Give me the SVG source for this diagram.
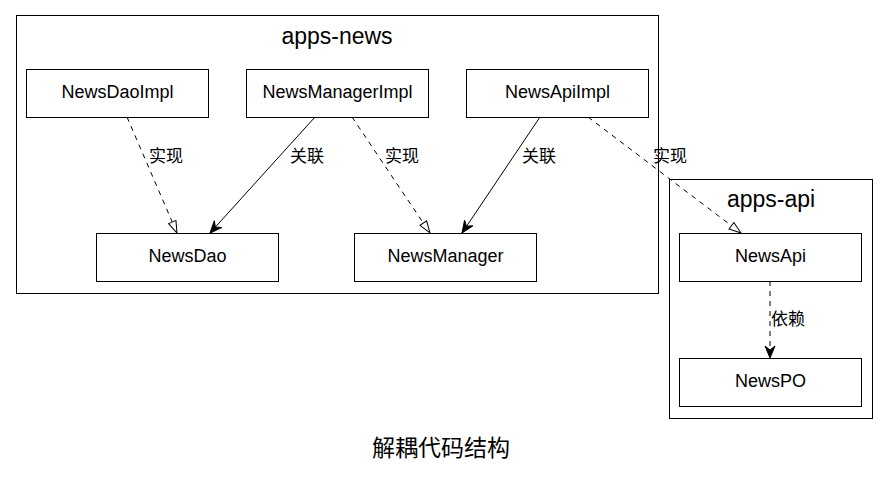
<svg xmlns="http://www.w3.org/2000/svg" width="888" height="479" viewBox="0 0 888 479">
<style>
.cl{fill:none;stroke:#000;stroke-width:1}
.nd{fill:#fff;stroke:#000;stroke-width:1}
.t{font-family:"Liberation Sans",Arial,"Noto Sans CJK SC",sans-serif;font-size:18px;text-anchor:middle;fill:#000}
.ct{font-family:"Liberation Sans",Arial,"Noto Sans CJK SC",sans-serif;font-size:23px;text-anchor:middle;fill:#000}
.lb{font-family:"Noto Sans CJK SC","Liberation Sans",sans-serif;font-size:17px;fill:#000}
.e{fill:none;stroke:#000;stroke-width:1}
.d{stroke-dasharray:5,5}
</style>
<defs>
<marker id="tri" markerUnits="userSpaceOnUse" markerWidth="14" markerHeight="12" refX="12" refY="4" orient="auto" overflow="visible">
<path d="M0,0 L12,4 L0,8 Z" fill="#fff" stroke="#000" stroke-width="1"/>
</marker>
<marker id="vee" markerUnits="userSpaceOnUse" markerWidth="14" markerHeight="12" refX="12" refY="5" orient="auto" overflow="visible">
<path d="M0,0 L12,5 L0,10 L4,5 Z" fill="#000" stroke="#000" stroke-width="1"/>
</marker>
</defs>
<rect width="888" height="479" fill="#fff"/>
<g id="cluster-apps-news">
<rect class="cl" x="16.5" y="15.5" width="642" height="278"/>
<text class="ct" x="337" y="44">apps-news</text>
</g>
<g id="cluster-apps-api">
<rect class="cl" x="669.5" y="179.5" width="203" height="239"/>
<text class="ct" x="771" y="207">apps-api</text>
</g>
<g id="connectors">
<path class="e d" d="M127,117 L177,233" marker-end="url(#tri)"/>
<text class="lb" x="149" y="162">实现</text>
<path class="e" d="M315,117 L210,233" marker-end="url(#vee)"/>
<text class="lb" x="290" y="162">关联</text>
<path class="e d" d="M352,117 L430,233" marker-end="url(#tri)"/>
<text class="lb" x="385" y="162">实现</text>
<path class="e" d="M540,117 L462,233" marker-end="url(#vee)"/>
<text class="lb" x="522" y="162">关联</text>
<path class="e d" d="M588,117 L741,233" marker-end="url(#tri)"/>
<text class="lb" x="653" y="162">实现</text>
<path class="e d" d="M770,281 L770,358" marker-end="url(#vee)"/>
<text class="lb" x="771" y="325">依赖</text>
</g>
<g id="node-NewsDaoImpl"><rect class="nd" x="26.5" y="69.5" width="182" height="48"/><text class="t" x="117.5" y="98">NewsDaoImpl</text></g>
<g id="node-NewsManagerImpl"><rect class="nd" x="246.5" y="69.5" width="182" height="48"/><text class="t" x="337.5" y="98">NewsManagerImpl</text></g>
<g id="node-NewsApiImpl"><rect class="nd" x="466.5" y="69.5" width="182" height="48"/><text class="t" x="557.5" y="98">NewsApiImpl</text></g>
<g id="node-NewsDao"><rect class="nd" x="96.5" y="233.5" width="182" height="48"/><text class="t" x="187.5" y="262">NewsDao</text></g>
<g id="node-NewsManager"><rect class="nd" x="354.5" y="233.5" width="182" height="48"/><text class="t" x="445.5" y="262">NewsManager</text></g>
<g id="node-NewsApi"><rect class="nd" x="679.5" y="233.5" width="182" height="48"/><text class="t" x="770.5" y="262">NewsApi</text></g>
<g id="node-NewsPO"><rect class="nd" x="679.5" y="358.5" width="182" height="48"/><text class="t" x="770.5" y="387">NewsPO</text></g>
<text class="ct" x="441" y="456" style="font-family:'Noto Sans CJK SC','Liberation Sans',sans-serif">解耦代码结构</text>
</svg>
